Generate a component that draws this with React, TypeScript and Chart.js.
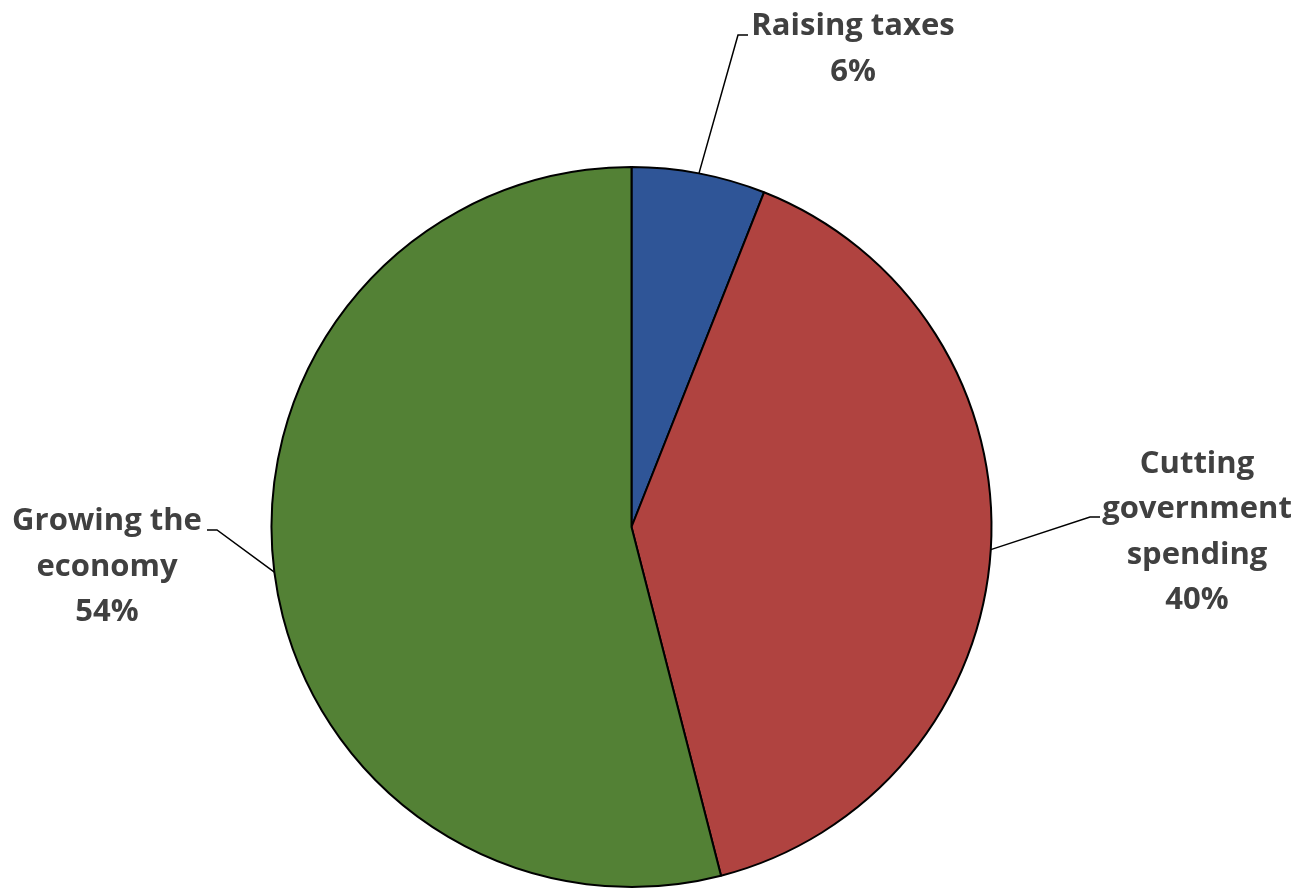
import React, { useEffect, useRef } from "react";
import { Chart, registerables } from "chart.js";

Chart.register(...registerables);

const categories = ["Raising taxes", "Cutting government spending", "Growing the economy"];
const values = [6, 40, 54];
const labelLines = [
  ["Raising taxes", "6%"],
  ["Cutting", "government", "spending", "40%"],
  ["Growing the", "economy", "54%"],
];
const colors = ["#2F5597", "#B04340", "#538135"];

// label layout: block center, elbow point, horizontal end
const labelLayout = [
  { cx: 853, cy: 49, elbow: [738, 35], end: [748, 35] },
  { cx: 1197, cy: 532, elbow: [1090, 517], end: [1100, 517] },
  { cx: 107, cy: 567, elbow: [217, 530], end: [207, 530] },
];

const FONT = "bold 31px 'Open Sans'";
const LINE_H = 45.5;

const labelPlugin = {
  id: "pieLabels",
  afterDatasetsDraw(chart: any) {
    const ctx = chart.ctx;
    const meta = chart.getDatasetMeta(0);
    ctx.save();
    meta.data.forEach((arc: any, i: number) => {
      const { x, y, startAngle, endAngle, outerRadius } = arc.getProps(
        ["x", "y", "startAngle", "endAngle", "outerRadius"],
        true
      );
      const mid = (startAngle + endAngle) / 2;
      const px = x + Math.cos(mid) * outerRadius;
      const py = y + Math.sin(mid) * outerRadius;
      const L = labelLayout[i];
      ctx.beginPath();
      ctx.strokeStyle = "#000";
      ctx.lineWidth = 1.5;
      ctx.moveTo(px, py);
      ctx.lineTo(L.elbow[0], L.elbow[1]);
      ctx.lineTo(L.end[0], L.end[1]);
      ctx.stroke();

      ctx.font = FONT;
      ctx.fillStyle = "#404040";
      ctx.textAlign = "center";
      ctx.textBaseline = "middle";
      const lines = labelLines[i];
      const n = lines.length;
      lines.forEach((t, k) => {
        ctx.fillText(t, L.cx, L.cy + (k - (n - 1) / 2) * LINE_H);
      });
    });
    ctx.restore();
  },
};

export default function App() {
  const ref = useRef<HTMLCanvasElement>(null);
  useEffect(() => {
    document.body.style.margin = "0";
    const chart = new Chart(ref.current!, {
      type: "pie",
      data: {
        labels: categories,
        datasets: [
          {
            data: values,
            backgroundColor: colors,
            borderColor: "#000000",
            borderWidth: 2,
            borderAlign: "center",
          },
        ],
      },
      options: {
        animation: false,
        responsive: true,
        maintainAspectRatio: false,
        layout: { padding: { left: 270, right: 305, top: 166, bottom: 1 } },
        plugins: {
          legend: { display: false },
          tooltip: { enabled: false },
        },
      },
      plugins: [labelPlugin],
    });
    return () => chart.destroy();
  }, []);
  return (
    <div style={{ position: "absolute", left: 0, top: 0, width: 1298, height: 889, background: "#fff" }}>
      <canvas ref={ref} />
    </div>
  );
}
